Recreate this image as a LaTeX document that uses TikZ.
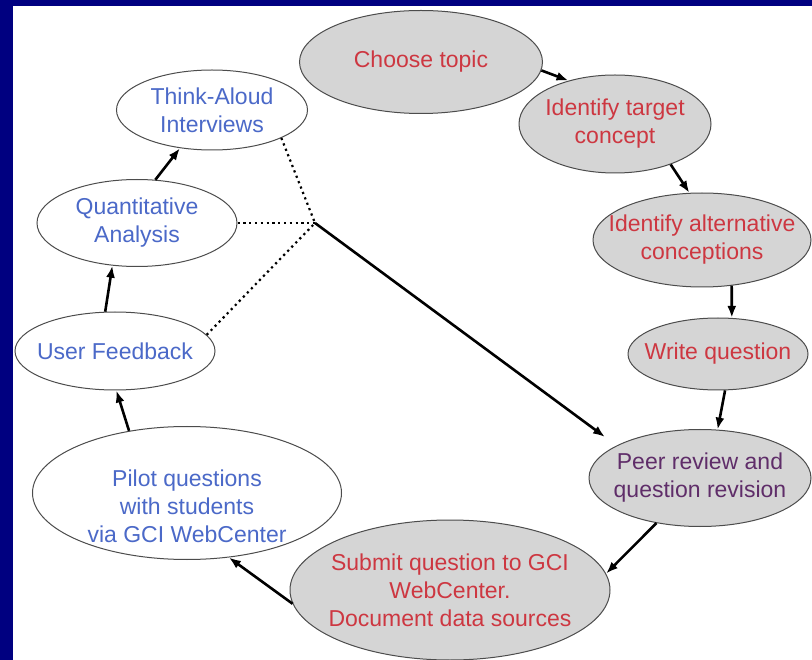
\documentclass[tikz,border=0pt]{standalone}
\usepackage{fontspec}
\setmainfont{Liberation Sans}
\usetikzlibrary{shapes.geometric, arrows.meta}

\definecolor{navy}{RGB}{0,0,128}
\definecolor{stagered}{RGB}{205,55,65}
\definecolor{stageblue}{RGB}{75,105,200}
\definecolor{stagepurple}{RGB}{95,45,105}

\tikzset{
	stage/.style = {ellipse, draw = gray!60!black, line width = 1pt, fill = gray!33, inner sep = 0pt},
	pilot/.style = {ellipse, draw = gray!60!black, line width = 1pt, fill = white, inner sep = 0pt},
	rtext/.style = {text = stagered, align = center, font = \fontsize{23}{28}\selectfont},
	btext/.style = {text = stageblue, align = center, font = \fontsize{23}{28}\selectfont},
	ptext/.style = {text = stagepurple, align = center, font = \fontsize{23}{28}\selectfont},
	flow/.style = {->, line width = 2.6pt},
	link/.style = {line width = 2.2pt, dash pattern = on 2.2pt off 3.6pt}
}

\begin{document}
\begin{tikzpicture}[> = {Latex[length = 12pt, width = 9pt]}, x = 1pt, y = -1pt]

	% Background and panel
	
	\useasboundingbox (0, 0) rectangle (812, 660);
	\fill [navy] (0, 0) rectangle (812, 660);
	\fill [white] (13, 6) rectangle (812, 660);
	
	% Question writing cycle (grey)
	
	\node [stage, minimum width = 243pt, minimum height = 103pt, label = {[rtext]center:Choose topic}] (topic) at (421, 62) {};
	\node [stage, minimum width = 192pt, minimum height = 98pt, label = {[rtext]center:{Identify target\\concept}}] (target) at (615, 124) {};
	\node [stage, minimum width = 218pt, minimum height = 94pt, label = {[rtext]center:{Identify alternative\\conceptions}}] (altconc) at (702, 240) {};
	\node [stage, minimum width = 180pt, minimum height = 72pt, label = {[rtext]center:Write question}] (write) at (718, 354) {};
	\node [stage, minimum width = 222pt, minimum height = 97pt, label = {[ptext]center:{Peer review and\\question revision}}] (peer) at (700, 478) {};
	\node [stage, minimum width = 320pt, minimum height = 140pt, label = {[rtext]center:{Submit question to GCI\\WebCenter.\\Document data sources}}] (submit) at (450, 590) {};
	
	% Piloting cycle (white)
	
	\node [pilot, minimum width = 309pt, minimum height = 133pt, label = {[btext, yshift = -13pt]center:{Pilot questions\\with students\\via GCI WebCenter}}] (pilot) at (187, 493) {};
	\node [pilot, minimum width = 200pt, minimum height = 78pt, label = {[btext]center:User Feedback}] (feedback) at (115, 351) {};
	\node [pilot, minimum width = 200pt, minimum height = 87pt, label = {[btext]center:{Quantitative\\Analysis}}] (quant) at (137, 223) {};
	\node [pilot, minimum width = 191pt, minimum height = 80pt, label = {[btext]center:{Think-Aloud\\Interviews}}] (think) at (212, 110) {};
	
	% Arrows round the cycle
	
	\draw [flow] (topic.-4) -- (target.137);
	\draw [flow] (target.-36) -- (altconc.105);
	\draw [flow] (altconc.-57) -- (write.69);
	\draw [flow] (write.-79) -- (peer.70);
	\draw [flow] (peer.-134) -- (submit.6);
	\draw [flow] (submit.185) -- (pilot.-57);
	\draw [flow] (pilot.133) -- (feedback.-88);
	\draw [flow] (feedback.104) -- (quant.-120);
	\draw [flow] (quant.67) -- (think.-130);
	
	% Feedback into peer review
	
	\coordinate (hub) at (315, 223);
	\coordinate (tip) at (605, 437);
	
	\draw [link] (think.-22) -- (hub);
	\draw [link] (quant.0) -- (hub);
	\draw [link] (feedback.10) -- (hub);
	\draw [flow] (hub) -- (tip);

\end{tikzpicture}
\end{document}
